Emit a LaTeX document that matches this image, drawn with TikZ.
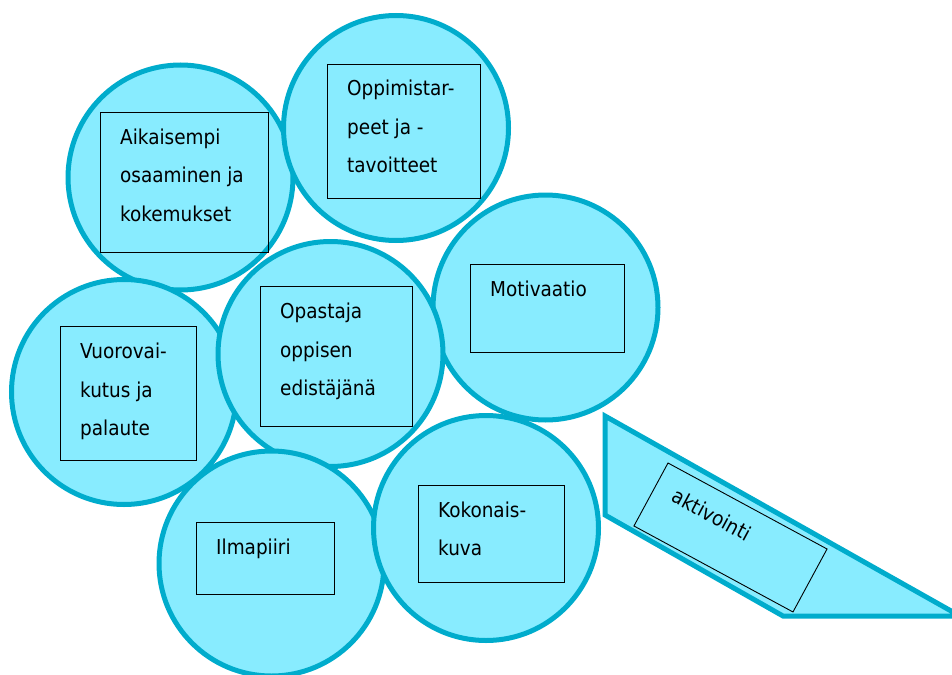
\documentclass[tikz,border=0pt]{standalone}
\usepackage{fontspec}
\newfontfamily\lblfont{DejaVu Sans Condensed}
\usetikzlibrary{calc}
\definecolor{bubblefill}{RGB}{136,236,255}
\definecolor{bubbleline}{RGB}{0,172,204}
\tikzset{
  bubble/.style={circle, draw=bubbleline, fill=bubblefill, line width=5pt,
    minimum size=225pt, inner sep=0pt},
  tagbox/.style={rectangle, draw=black, line width=0.9pt, inner sep=0pt,
    outer sep=0pt, anchor=north west},
  tagtext/.style={anchor=base west, inner sep=0pt,
    font=\lblfont\fontsize{20.5}{24}\selectfont},
}
% stacked lines, 38.4pt apart, baseline on the first line
\newcommand\taglines[1]{{\renewcommand\arraystretch{1.6}%
  \begin{tabular}[t]{@{}l@{}}#1\end{tabular}}}

\begin{document}
\begin{tikzpicture}[x=1pt,y=1pt]
\useasboundingbox (0,0) rectangle (952,-674);

% prior knowledge
\node[bubble] (cA) at (180.5,-177.5) {};
\node[tagbox, minimum width=168.3pt, minimum height=140.4pt] (bA) at (100,-112.3) {};
\node[tagtext] (tA) at ($(bA.north west)+(20,-32)$)
  {\taglines{Aikaisempi\\osaaminen ja\\kokemukset}};

% learning needs and goals
\node[bubble] (cB) at (396,-128) {};
\node[tagbox, minimum width=153pt, minimum height=134pt] (bB) at (327,-64) {};
\node[tagtext] (tB) at ($(bB.north west)+(20,-32)$)
  {\taglines{Oppimistar-\\peet ja -\\tavoitteet}};

% motivation
\node[bubble] (cC) at (545.5,-307.5) {};
\node[tagbox, minimum width=154pt, minimum height=88pt] (bC) at (470,-264) {};
\node[tagtext] (tC) at ($(bC.north west)+(20,-32)$) {\taglines{Motivaatio}};

% interaction and feedback
\node[bubble] (cD) at (124,-392) {};
\node[tagbox, minimum width=136.7pt, minimum height=134pt] (bD) at (60,-326.7) {};
\node[tagtext] (tD) at ($(bD.north west)+(20,-32)$)
  {\taglines{Vuorovai-\\kutus ja\\palaute}};

% instructor
\node[bubble] (cE) at (330.5,-354) {};
\node[tagbox, minimum width=152.3pt, minimum height=140pt] (bE) at (260,-286.7) {};
\node[tagtext] (tE) at ($(bE.north west)+(20,-32)$)
  {\taglines{Opastaja\\oppisen\\edistäjänä}};

% atmosphere
\node[bubble] (cF) at (271.5,-563.5) {};
\node[tagbox, minimum width=138pt, minimum height=72pt] (bF) at (196,-522) {};
\node[tagtext] (tF) at ($(bF.north west)+(20,-32)$) {\taglines{Ilmapiiri}};

% overall picture
\node[bubble] (cG) at (486,-528) {};
\node[tagbox, minimum width=146pt, minimum height=97pt] (bG) at (418,-485) {};
\node[tagtext] (tG) at ($(bG.north west)+(20,-32)$) {\taglines{Kokonais-\\kuva}};

% activation ramp
\draw[line width=5pt, draw=bubbleline, fill=bubblefill, miter limit=10]
  (605,-416) -- (605,-515) -- (783,-616) -- (960,-616) -- cycle;
\begin{scope}[shift={(668,-463)}, rotate=-28.4, transform shape]
  \node[tagbox, minimum width=180.8pt, minimum height=71.6pt] (bH) at (0,0) {};
  \node[tagtext] (tH) at (20,-32) {aktivointi};
\end{scope}
\end{tikzpicture}
\end{document}
